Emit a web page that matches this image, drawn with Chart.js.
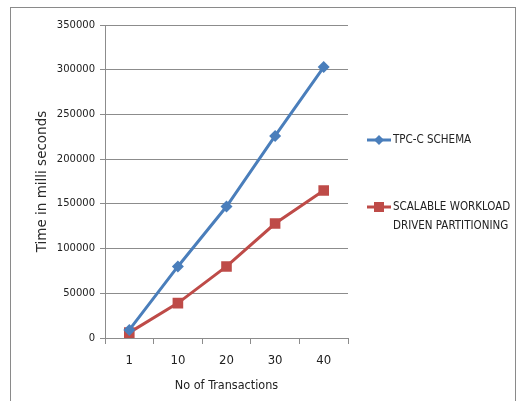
<!DOCTYPE html>
<html>
<head>
<meta charset="utf-8">
<script src="https://cdn.jsdelivr.net/npm/chart.js@4.4.1/dist/chart.umd.min.js"></script>
<style>
  html, body { margin: 0; padding: 0; background: #fff; }
  #wrap { position: relative; width: 524px; height: 401px; overflow: hidden; }
  #frame { position: absolute; left: 10px; top: 7px; width: 506px; height: 420px; border: 1px solid #8a8a8a; box-sizing: border-box; }
  canvas { position: absolute; left: 0; top: 0; }
</style>
</head>
<body>
<div id="wrap">
  <div id="frame"></div>
  <canvas id="c" width="524" height="401"></canvas>
</div>
<script>
// Number of transactions on the x axis
const transactions = ['1', '10', '20', '30', '40'];
// Execution time (ms) per schema
const tpccSchema = [9000, 80000, 147000, 226000, 303000];
const scalableWorkload = [6000, 39000, 80000, 128000, 165000];
const seriesNames = ['TPC-C SCHEMA', ['SCALABLE WORKLOAD', 'DRIVEN PARTITIONING']];
const yTicks = [0, 50000, 100000, 150000, 200000, 250000, 300000, 350000];

const BLUE = '#4a7ebb';
const RED = '#be4b48';
const GRID = '#8c8c8c';
const NARROW = '"DejaVu Sans Condensed", "Liberation Sans Narrow", "Liberation Sans", sans-serif';

// Legend drawn at the right of the plot, with a two-line entry
const sideLegend = {
  id: 'sideLegend',
  afterDraw(chart) {
    const ctx = chart.ctx;
    const rows = [140, 207];
    ctx.save();
    chart.data.datasets.forEach((ds, i) => {
      const y = rows[i];
      ctx.strokeStyle = ds.borderColor;
      ctx.lineWidth = 3;
      ctx.beginPath();
      ctx.moveTo(367, y);
      ctx.lineTo(391, y);
      ctx.stroke();
      ctx.fillStyle = ds.borderColor;
      if (ds.pointStyle === 'rect') {
        ctx.fillRect(374, y - 5, 10, 10);
      } else {
        ctx.beginPath();
        ctx.moveTo(379, y - 5);
        ctx.lineTo(384, y);
        ctx.lineTo(379, y + 5);
        ctx.lineTo(374, y);
        ctx.closePath();
        ctx.fill();
      }
      ctx.fillStyle = '#222';
      ctx.font = '11.5px ' + NARROW;
      ctx.textBaseline = 'middle';
      const lines = Array.isArray(ds.label) ? ds.label : [ds.label];
      lines.forEach((t, k) => ctx.fillText(t, 393, y + k * 19));
    });
    ctx.restore();
  }
};

new Chart(document.getElementById('c'), {
  type: 'line',
  data: {
    labels: transactions,
    datasets: [
      {
        label: seriesNames[0],
        data: tpccSchema,
        borderColor: BLUE,
        backgroundColor: BLUE,
        borderWidth: 3,
        pointStyle: 'rectRot',
        pointRadius: 6,
        pointBorderWidth: 0,
        tension: 0
      },
      {
        label: seriesNames[1],
        data: scalableWorkload,
        borderColor: RED,
        backgroundColor: RED,
        borderWidth: 3,
        pointStyle: 'rect',
        pointRadius: 7.5,
        pointBorderWidth: 0,
        tension: 0
      }
    ]
  },
  options: {
    responsive: false,
    animation: false,
    layout: { padding: { left: 34, right: 176, top: 25, bottom: 8 } },
    plugins: {
      legend: { display: false },
      tooltip: { enabled: false }
    },
    scales: {
      x: {
        offset: true,
        afterFit(scale) { scale.height = 55; },
        grid: {
          offset: true,
          drawOnChartArea: false,
          drawTicks: true,
          tickLength: 6,
          color: GRID
        },
        border: { color: GRID, width: 1 },
        ticks: {
          color: '#222',
          padding: 9,
          font: { family: NARROW, size: 13 }
        },
        title: {
          display: true,
          text: 'No of Transactions',
          color: '#222',
          padding: { top: 0, bottom: 0 },
          font: { family: NARROW, size: 12.5 }
        }
      },
      y: {
        min: 0,
        max: 350000,
        afterFit(scale) { scale.width = 71; },
        afterBuildTicks(scale) { scale.ticks = yTicks.map(v => ({ value: v })); },
        grid: {
          color: GRID,
          tickLength: 5,
          drawTicks: true
        },
        border: { color: GRID, width: 1 },
        ticks: {
          color: '#222',
          padding: 5,
          callback: v => String(v),
          font: { family: '"DejaVu Sans", sans-serif', size: 10 }
        },
        title: {
          display: true,
          text: 'Time in milli seconds',
          color: '#2a2a2a',
          padding: { top: 0, bottom: 0 },
          font: { family: '"DejaVu Sans", sans-serif', size: 13.5 }
        }
      }
    }
  },
  plugins: [sideLegend]
});
</script>
</body>
</html>
